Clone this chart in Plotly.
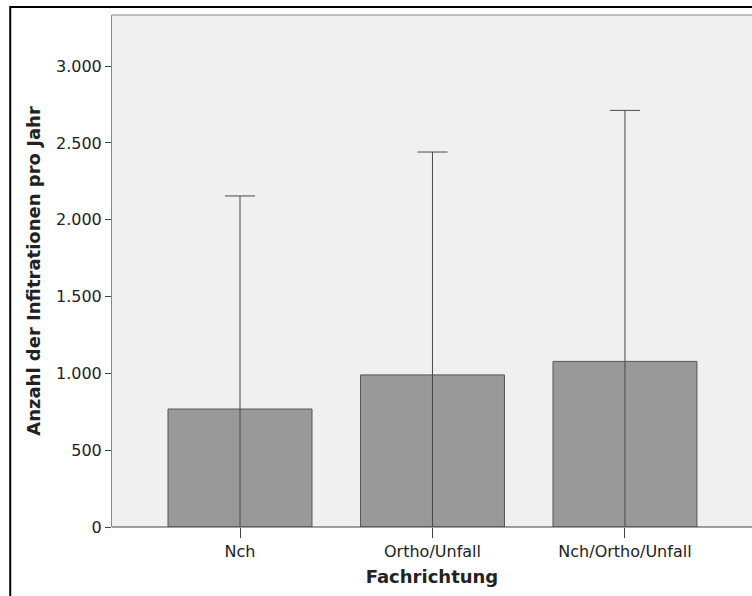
import plotly.graph_objects as go

categories = ["Nch", "Ortho/Unfall", "Nch/Ortho/Unfall"]
means = [768, 990, 1078]
upper = [2155, 2441, 2712]
err = [u - m for u, m in zip(upper, means)]
tick_vals = [0, 500, 1000, 1500, 2000, 2500, 3000]
tick_text = ["0", "500", "1.000", "1.500", "2.000", "2.500", "3.000"]

font_family = "DejaVu Sans, Verdana, sans-serif"

fig = go.Figure()
fig.add_trace(go.Bar(
    x=[0, 1, 2], y=means, width=0.748,
    marker=dict(color="#999999", line=dict(color="#555555", width=1)),
    error_y=dict(type="data", array=err, symmetric=True, color="#4a4a4a",
                 thickness=1, width=15),
))

fig.update_layout(
    width=752, height=596,
    margin=dict(l=112, r=0, t=15, b=69),
    paper_bgcolor="white", plot_bgcolor="#f0f0f0",
    showlegend=False,
    font=dict(family=font_family, size=16, color="#222222"),
    xaxis=dict(
        range=[-0.665, 2.66], tickvals=[0, 1, 2], ticktext=categories,
        ticks="outside", ticklen=10, tickcolor="#444444", tickwidth=1,
        showgrid=False, zeroline=False, showline=False,
        title=dict(text="<b>Fachrichtung</b>", font=dict(size=18), standoff=10),
        tickfont=dict(size=16),
    ),
    yaxis=dict(
        range=[0, 3333], tickvals=tick_vals, ticktext=tick_text,
        ticks="outside", ticklen=6, tickcolor="#444444", tickwidth=1,
        showgrid=False, zeroline=False, showline=True, linecolor="#888888", linewidth=1,
        title=dict(text="<b>Anzahl der Infitrationen pro Jahr</b>", font=dict(size=18), standoff=10),
        tickfont=dict(size=16),
    ),
)

# plot area top border and bottom axis line
fig.add_shape(type="line", xref="paper", yref="paper", x0=0, x1=1, y0=1, y1=1,
              line=dict(color="#888888", width=1))
fig.add_shape(type="line", xref="paper", yref="paper", x0=0, x1=1, y0=0, y1=0,
              line=dict(color="#444444", width=1))
# outer black frame
fig.add_shape(type="rect", xref="paper", yref="paper",
              x0=-0.159, x1=1.2, y0=-0.3, y1=1.0156,
              line=dict(color="black", width=2), layer="below")

fig.write_html("out.html")
